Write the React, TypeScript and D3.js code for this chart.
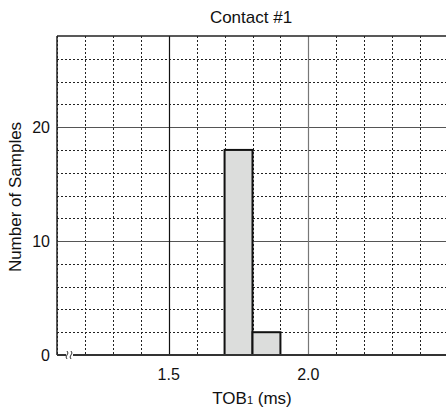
import React from "react";
import * as d3 from "d3";

const binStarts = [1.7, 1.8];
const binWidth = 0.1;
const counts = [18, 2];
const xMajorTicks = [1.5, 2.0];
const xMinorTicks = [1.1, 1.2, 1.3, 1.4, 1.6, 1.7, 1.8, 1.9, 2.1, 2.2, 2.3, 2.4];
const yMajorTicks = [10, 20];
const yMinorTicks = [2, 4, 6, 8, 12, 14, 16, 18, 22, 24, 26];
const yLabels = [0, 10, 20];

export default function App() {
  const W = 446, H = 412;
  const left = 57, right = 448, top = 36, bottom = 355;
  const x = d3.scaleLinear().domain([1.1, 2.5]).range([left, right]);
  const y = d3.scaleLinear().domain([0, 28]).range([bottom, top]);
  const font = "Arial, 'Liberation Sans', sans-serif";
  const bx = 69;
  return (
    <svg width={W} height={H} style={{ position: "absolute", left: 0, top: 0, display: "block" }}>
      <rect x={0} y={0} width={W} height={H} fill="#fff" />
      {yMinorTicks.map(v => (
        <line key={"ym" + v} x1={left} x2={W} y1={Math.round(y(v)) + 0.5} y2={Math.round(y(v)) + 0.5}
          stroke="#222" strokeWidth={1} strokeDasharray="2,2" />
      ))}
      {xMinorTicks.map(v => (
        <line key={"xm" + v} x1={Math.round(x(v)) + 0.5} x2={Math.round(x(v)) + 0.5} y1={top} y2={bottom}
          stroke="#222" strokeWidth={1} strokeDasharray="2,2" />
      ))}
      {yMajorTicks.map(v => (
        <line key={"yM" + v} x1={left} x2={W} y1={Math.round(y(v)) + 0.5} y2={Math.round(y(v)) + 0.5}
          stroke="#555" strokeWidth={1.2} />
      ))}
      {xMajorTicks.map((v, i) => (
        <line key={"xM" + v} x1={Math.round(x(v)) + 0.5} x2={Math.round(x(v)) + 0.5} y1={top} y2={bottom}
          stroke={i === 0 ? "#111" : "#777"} strokeWidth={1.2} />
      ))}
      {binStarts.map((b, i) => (
        <rect key={"bar" + i} x={x(b)} y={y(counts[i])} width={x(b + binWidth) - x(b)} height={y(0) - y(counts[i])}
          fill="#dcdddc" stroke="#111" strokeWidth={2} />
      ))}
      <line x1={left} x2={W} y1={top} y2={top} stroke="#222" strokeWidth={1.5} />
      <line x1={left} x2={left} y1={top} y2={bottom} stroke="#222" strokeWidth={1.5} />
      <line x1={left} x2={bx - 3} y1={bottom} y2={bottom} stroke="#333" strokeWidth={2} />
      <line x1={bx + 4} x2={W} y1={bottom} y2={bottom} stroke="#333" strokeWidth={2} />
      <path d={`M${bx - 2},${bottom - 4} q2,2 0,4 q-2,2 0,4 M${bx + 2},${bottom - 4} q2,2 0,4 q-2,2 0,4`}
        fill="none" stroke="#333" strokeWidth={1} />
      {yLabels.map(v => (
        <text key={"yl" + v} x={50} y={y(v)} dy="0.36em" textAnchor="end" fontFamily={font} fontSize={16} fill="#111">{v}</text>
      ))}
      {xMajorTicks.map(v => (
        <text key={"xl" + v} x={x(v)} y={380} textAnchor="middle" fontFamily={font} fontSize={16} fill="#111">{v.toFixed(1)}</text>
      ))}
      <text x={251} y={23} textAnchor="middle" fontFamily={font} fontSize={17} fill="#111">Contact #1</text>
      <text x={252} y={404} textAnchor="middle" fontFamily={font} fontSize={17} fill="#111">
        TOB<tspan fontSize={11}>1</tspan> (ms)
      </text>
      <text transform={`translate(21,197) rotate(-90)`} textAnchor="middle" fontFamily={font} fontSize={17} fill="#111">Number of Samples</text>
    </svg>
  );
}
